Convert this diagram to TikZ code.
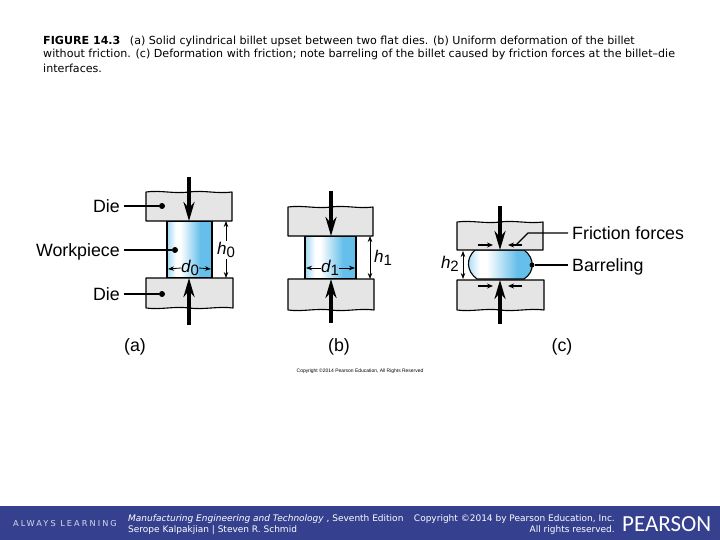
\documentclass[tikz,border=0pt]{standalone}
\usepackage{fontspec}
\setmainfont{Liberation Sans}
\newfontfamily\capfont{DejaVu Sans}
\newfontfamily\spacedfont[LetterSpace=25]{DejaVu Sans}
\newfontfamily\logofont{Carlito}
\usepackage{xcolor}
\usetikzlibrary{arrows.meta,positioning,calc}

\definecolor{barblue}{HTML}{35418F}
\definecolor{diegray}{HTML}{E5E5E5}
\definecolor{billetedge}{HTML}{9FD8F4}
\definecolor{billetblue}{HTML}{66BFEA}
\pgfdeclarehorizontalshading{billetfill}{100bp}{color(0bp)=(billetedge); color(25bp)=(billetedge); color(35bp)=(white); color(40bp)=(white); color(62bp)=(billetblue); color(75bp)=(billetblue); color(100bp)=(billetblue)}

\newcommand{\symb}[2]{{\itshape #1}\raisebox{-3.5pt}{\fontsize{15}{15}\selectfont #2}}

\tikzset{
    label/.style={font=\fontsize{17.8}{20}\selectfont, inner sep=0pt, text height=12.6pt, text depth=0pt},
    symbol/.style={font=\fontsize{17}{20}\selectfont, inner sep=0pt},
    captext/.style={font=\capfont\fontsize{11.1}{13}\selectfont, anchor=west, inner sep=0pt},
    foottext/.style={font=\capfont\fontsize{9}{10}\selectfont, text=white, inner sep=0pt},
    dot/.style={circle, fill=black, inner sep=0pt, minimum size=6pt},
    die/.style={draw=black, fill=diegray, line width=1.1pt, line join=round},
    billet/.style={draw=black, shading=billetfill, line width=1.1pt},
    force/.style={-{Stealth[length=19pt,width=11pt]}, line width=3.6pt},
    leader/.style={line width=1.3pt},
    dimline/.style={{Stealth[length=6pt,width=4.5pt]}-{Stealth[length=6pt,width=4.5pt]}, line width=0.7pt},
    dimhalf/.style={-{Stealth[length=6pt,width=4.5pt]}, line width=0.8pt},
    friction/.style={-{Stealth[length=6pt,width=5pt]}, line width=1.1pt}
}

\begin{document}
\begin{tikzpicture}[x=1pt, y=-1pt]
    \useasboundingbox (0,0) rectangle (720,540);
    \fill[white] (0,0) rectangle (720,540);

    % caption
    \node[captext] (capone) at (43,41) {\textbf{FIGURE 14.3}\hspace{6pt} (a) Solid cylindrical billet upset between two flat dies. (b) Uniform deformation of the billet};
    \node[captext] (captwo) at (43,54.5) {without friction. (c) Deformation with friction; note barreling of the billet caused by friction forces at the billet–die};
    \node[captext] (capthree) at (43,68) {interfaces.};

    % (a)
    \draw[billet] (167,221) rectangle (212,278);
    \draw[die] (146,221) -- (146,192) .. controls +(15,-2) and +(-15,2) .. (189,192) .. controls +(15,-2) and +(-15,2) .. (232,192) -- (232,221) -- cycle;
    \draw[die] (146,278) -- (146,308) .. controls +(15,2) and +(-15,-2) .. (189,308) .. controls +(15,2) and +(-15,-2) .. (233,308) -- (233,278) -- cycle;

    \coordinate (atopstart) at (189,177);
    \coordinate (atopend) at (189,221);
    \coordinate (abotstart) at (189,325);
    \coordinate (abotend) at (189,278);
    \draw[force] (atopstart) -- (atopend);
    \draw[force] (abotstart) -- (abotend);

    \node[label, anchor=east] (dietop) at (120,206) {Die};
    \node[label, anchor=east] (workpiece) at (120,250) {Workpiece};
    \node[label, anchor=east] (diebot) at (120,294) {Die};
    \node[dot] (dietopdot) at (162,206) {};
    \node[dot] (workdot) at (175,250) {};
    \node[dot] (diebotdot) at (162,294) {};
    \draw[leader] (dietop.east) ++(4,0) coordinate (dietopout) -- (dietopdot);
    \draw[leader] (workpiece.east) ++(4,0) coordinate (workout) -- (workdot);
    \draw[leader] (diebot.east) ++(4,0) coordinate (diebotout) -- (diebotdot);

    \node[symbol] (dzero) at (190,268) {\symb{d}{0}};
    \coordinate (dzeroleft) at (168,269);
    \coordinate (dzeroright) at (211,269);
    \draw[dimhalf] (dzero.west) -- (dzeroleft);
    \draw[dimhalf] (dzero.east) -- (dzeroright);

    \coordinate (hzerotop) at (226,221);
    \coordinate (hzerobot) at (226,278);
    \node[symbol, fill=white, inner sep=1pt, anchor=center] (hzero) at (226,250) {\symb{h}{0}};
    \draw[dimhalf] (hzero.north -| hzerotop) -- (hzerotop);
    \draw[dimhalf] (hzero.south -| hzerobot) -- (hzerobot);

    \node[label] (labela) at (135,345) {(a)};

    % (b)
    \draw[billet] (305,236) rectangle (356,279);
    \draw[die] (288,236) -- (288,207) .. controls +(15,-2) and +(-15,2) .. (331,207) .. controls +(15,-2) and +(-15,2) .. (373,207) -- (373,236) -- cycle;
    \draw[die] (288,279) -- (288,310) .. controls +(15,2) and +(-15,-2) .. (331,310) .. controls +(15,2) and +(-15,-2) .. (374,310) -- (374,279) -- cycle;

    \coordinate (btopstart) at (331,191);
    \coordinate (btopend) at (331,236);
    \coordinate (bbotstart) at (331,323);
    \coordinate (bbotend) at (331,279);
    \draw[force] (btopstart) -- (btopend);
    \draw[force] (bbotstart) -- (bbotend);

    \node[symbol] (done) at (330,268) {\symb{d}{1}};
    \coordinate (doneleft) at (306,268);
    \coordinate (doneright) at (355,268);
    \draw[dimhalf] (done.west) -- (doneleft);
    \draw[dimhalf] (done.east) -- (doneright);

    \coordinate (honetop) at (370,236);
    \coordinate (honebot) at (370,279);
    \draw[dimline] (honetop) -- (honebot);
    \node[symbol, anchor=west] (hone) at (374,258) {\symb{h}{1}};

    \node[label] (labelb) at (339,345) {(b)};
    \node[font=\fontsize{4.95}{5}\selectfont, inner sep=0pt] (copynote) at (360,371) {Copyright ©2014 Pearson Education, All Rights Reserved};

    % (c)
    \draw[billet] (475,250) .. controls (466,258) and (466,271) .. (477,279) -- (524,279) .. controls (535,272) and (535,258) .. (524,250) -- cycle;
    \draw[die] (457,250) -- (457,222) .. controls +(15,-2) and +(-15,2) .. (500,222) .. controls +(15,-2) and +(-15,2) .. (543,222) -- (543,250) -- cycle;
    \draw[die] (457,280) -- (457,310) .. controls +(15,2) and +(-15,-2) .. (500,310) .. controls +(15,2) and +(-15,-2) .. (544,310) -- (544,280) -- cycle;

    \coordinate (ctopstart) at (500,206);
    \coordinate (ctopend) at (500,250);
    \coordinate (cbotstart) at (500,324);
    \coordinate (cbotend) at (500,280);
    \draw[force] (ctopstart) -- (ctopend);
    \draw[force] (cbotstart) -- (cbotend);

    \coordinate (ftl) at (478,245);
    \coordinate (ftlend) at (493,245);
    \coordinate (ftr) at (522,245);
    \coordinate (ftrend) at (508,245);
    \coordinate (fbl) at (478,286);
    \coordinate (fblend) at (493,286);
    \coordinate (fbr) at (522,286);
    \coordinate (fbrend) at (508,286);
    \draw[friction] (ftl) -- (ftlend);
    \draw[friction] (ftr) -- (ftrend);
    \draw[friction] (fbl) -- (fblend);
    \draw[friction] (fbr) -- (fbrend);

    \node[label, anchor=west] (frictionlabel) at (572,233) {Friction forces};
    \node[label, anchor=west] (barreling) at (572,265) {Barreling};
    \node[dot, minimum size=5pt] (barreldot) at (532,265) {};
    \coordinate (frictionbend) at (528,233);
    \coordinate (frictionend) at (516,245);
    \draw[leader] (frictionlabel.west) ++(-4,0) coordinate (frictionout) -- (frictionbend) -- (frictionend);
    \draw[leader] (barreling.west) ++(-4,0) coordinate (barrelout) -- (barreldot);

    \coordinate (htwotop) at (463,251);
    \coordinate (htwobot) at (463,279);
    \draw[dimline] (htwotop) -- (htwobot);
    \node[symbol, anchor=east] (htwo) at (459,264) {\symb{h}{2}};

    \node[label] (labelc) at (562,345) {(c)};

    % footer bar
    \fill[barblue] (0,506) rectangle (720,540);
    \node[font=\spacedfont\fontsize{8.2}{9}\selectfont, text=white!80!barblue, inner sep=0pt, anchor=west] (always) at (13,523.5) {ALWAYS LEARNING};
    \node[foottext, anchor=west] (booktitle) at (128,519.5) {\textit{Manufacturing Engineering and Technology} , Seventh Edition};
    \node[foottext, anchor=west] (authors) at (128,530) {Serope Kalpakjian | Steven R. Schmid};
    \node[foottext, anchor=east] (copyright) at (615,519.5) {Copyright ©2014 by Pearson Education, Inc.};
    \node[foottext, anchor=east] (rights) at (615,530) {All rights reserved.};
    \node[font=\logofont\fontsize{23}{24}\selectfont, text=white, inner sep=0pt, anchor=west] (pearson) at (622,524) {PEARSON};
\end{tikzpicture}
\end{document}
